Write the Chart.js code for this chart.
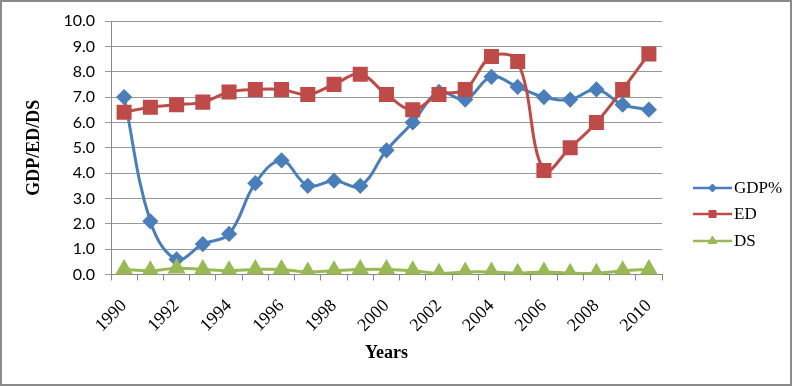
<!DOCTYPE html>
<html>
<head>
<meta charset="utf-8">
<script src="https://cdn.jsdelivr.net/npm/chart.js@4"></script>
<style>
html,body{margin:0;padding:0;background:#fff;}
#wrap{width:792px;height:386px;}
</style>
</head>
<body>
<div id="wrap"><canvas id="c" width="792" height="386"></canvas></div>
<script>
const years = ['1990','1991','1992','1993','1994','1995','1996','1997','1998','1999','2000','2001','2002','2003','2004','2005','2006','2007','2008','2009','2010'];
const gdp = [7.0,2.1,0.6,1.2,1.6,3.6,4.5,3.5,3.7,3.5,4.9,6.0,7.2,6.9,7.8,7.4,7.0,6.9,7.3,6.7,6.5];
const ed  = [6.4,6.6,6.7,6.8,7.2,7.3,7.3,7.1,7.5,7.9,7.1,6.5,7.1,7.3,8.6,8.4,4.1,5.0,6.0,7.3,8.7];
const ds  = [0.2,0.15,0.25,0.2,0.15,0.2,0.2,0.1,0.15,0.2,0.2,0.15,0.05,0.1,0.1,0.05,0.1,0.05,0.05,0.15,0.2];
const yTicks = ['0.0','1.0','2.0','3.0','4.0','5.0','6.0','7.0','8.0','9.0','10.0'];

const C_GDP = '#4A7EBB', C_ED = '#BE4B48', C_DS = '#98B954';
const SERIF = '"Liberation Serif", "Times New Roman", serif';

const framePlugin = {
  id: 'frame',
  beforeDraw(chart) {
    const ctx = chart.ctx;
    ctx.save();
    ctx.fillStyle = '#fff';
    ctx.fillRect(0, 0, chart.width, chart.height);
    ctx.restore();
  },
  afterDraw(chart) {
    const ctx = chart.ctx;
    ctx.save();
    ctx.strokeStyle = '#8a8a8a';
    ctx.lineWidth = 2;
    ctx.strokeRect(1, 1, chart.width - 2, chart.height - 2);
    const items = chart.data.datasets;
    const x0 = 693, x1 = 732, ys = [188, 214, 241];
    items.forEach((d, i) => {
      const y = ys[i];
      ctx.strokeStyle = d.borderColor;
      ctx.lineWidth = 2.5;
      ctx.beginPath(); ctx.moveTo(x0, y); ctx.lineTo(x1, y); ctx.stroke();
      ctx.fillStyle = d.borderColor;
      ctx.lineWidth = 1;
      Chart.helpers.drawPoint(ctx, {pointStyle: d.pointStyle, radius: d.legendRadius, borderWidth: 1, rotation: 0}, (x0 + x1) / 2, y);
      ctx.font = '17px ' + SERIF;
      ctx.textBaseline = 'middle';
      ctx.textAlign = 'left';
      ctx.fillStyle = '#000';
      ctx.fillText(d.label, x1 + 2, y + 1);
    });
    ctx.restore();
  }
};

function build() {
  new Chart(document.getElementById('c'), {
    type: 'line',
    data: {
      labels: years,
      datasets: [
        {label: 'GDP%', data: gdp, borderColor: C_GDP, backgroundColor: C_GDP, pointStyle: 'rectRot', pointRadius: 6, pointHoverRadius: 6, borderWidth: 3, tension: 0.38, order: 3, legendRadius: 4},
        {label: 'ED', data: ed, borderColor: C_ED, backgroundColor: C_ED, pointStyle: 'rect', pointRadius: 8.5, pointHoverRadius: 8.5, borderWidth: 3, tension: 0.38, order: 2, legendRadius: 5},
        {label: 'DS', data: ds, borderColor: C_DS, backgroundColor: C_DS, pointStyle: 'triangle', pointRadius: 7.5, pointHoverRadius: 7.5, borderWidth: 3, tension: 0.38, order: 1, legendRadius: 5}
      ]
    },
    options: {
      responsive: false,
      animation: false,
      events: [],
      layout: {padding: {left: 0, right: 130, top: 21, bottom: 0}},
      plugins: {legend: {display: false}, tooltip: {enabled: false}},
      scales: {
        x: {
          offset: true,
          grid: {display: true, drawOnChartArea: false, drawTicks: true, tickLength: 6, color: '#888', offset: true},
          border: {display: true, color: '#888', width: 1},
          ticks: {
            autoSkip: false, maxRotation: 45, minRotation: 45, padding: 15, color: '#000',
            font: {family: SERIF, size: 18},
            callback: function(v, i) { return i % 2 === 0 ? years[i] : ''; }
          },
          title: {display: true, text: 'Years', color: '#000', padding: {top: 4, bottom: 22},
            font: {family: SERIF, size: 18, weight: 'bold'}},
          afterFit(scale) { scale.height = 111.5; }
        },
        y: {
          min: 0, max: 10,
          grid: {color: '#999', tickLength: 6, drawTicks: true},
          border: {display: true, color: '#888', width: 1},
          ticks: {
            stepSize: 1, padding: 10, color: '#000',
            font: {family: 'Lato, "Open Sans", sans-serif', size: 16},
            callback: function(v) { return yTicks[Math.round(v)]; }
          },
          title: {display: true, text: 'GDP/ED/DS', color: '#000', padding: {top: 24, bottom: 0},
            font: {family: SERIF, size: 18, weight: 'bold'}},
          afterFit(scale) { scale.width = 111; }
        }
      }
    },
    plugins: [framePlugin]
  });
}

let built = false;
function go() { if (!built) { built = true; build(); } }
if (document.fonts && document.fonts.load) {
  Promise.all([
    document.fonts.load('18px "Liberation Serif"'),
    document.fonts.load('bold 18px "Liberation Serif"'),
    document.fonts.load('16px Lato')
  ]).then(go, go);
  setTimeout(go, 1500);
} else { go(); }
</script>
</body>
</html>
